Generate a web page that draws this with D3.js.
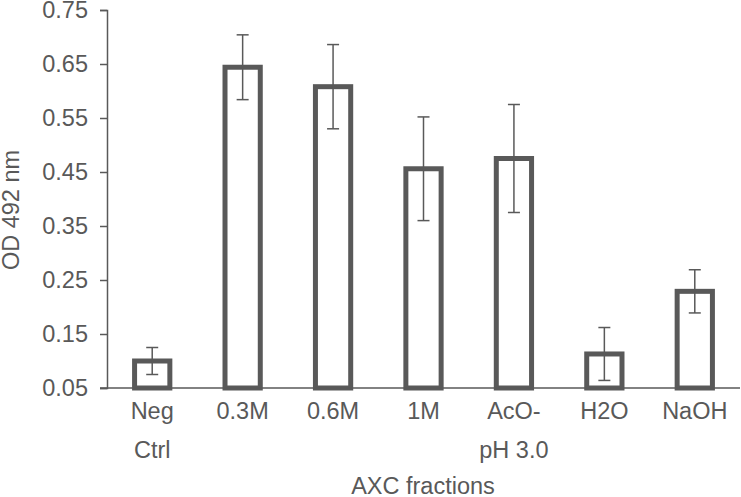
<!DOCTYPE html>
<html>
<head>
<meta charset="utf-8">
<script src="https://cdn.jsdelivr.net/npm/d3@7"></script>
<style>
  body { margin: 0; background: #fff; }
  text { font-family: "Liberation Sans", Arial, sans-serif; fill: #595959; }
</style>
</head>
<body>
<div id="chart"></div>
<script>
// Data
var categories = ["Neg|Ctrl", "0.3M", "0.6M", "1M", "AcO-|pH 3.0", "H2O", "NaOH"];
var values = [0.100, 0.644, 0.608, 0.456, 0.475, 0.113, 0.229];
var errors = [0.025, 0.060, 0.078, 0.096, 0.100, 0.049, 0.040];
var yTicks = [0.05, 0.15, 0.25, 0.35, 0.45, 0.55, 0.65, 0.75];

var w = 741, h = 497;
var plotLeft = 107, plotRight = 740, plotTop = 10, plotBottom = 388;
var grey = "#595959";
var fontSize = "23.5px";

var svg = d3.select("#chart")
    .append("svg")
    .attr("width", w)
    .attr("height", h);

var x = d3.scaleBand()
    .domain(categories)
    .range([plotLeft, plotRight])
    .paddingInner(0.61)
    .paddingOuter(0.305);

var y = d3.scaleLinear()
    .domain([0.05, 0.75])
    .range([plotBottom, plotTop]);

// Y axis
var yAxis = svg.append("g")
    .attr("transform", "translate(" + plotLeft + ",0)")
    .call(d3.axisLeft(y).tickValues(yTicks).tickSize(7).tickPadding(12).tickFormat(d3.format(".2f")));
yAxis.select(".domain").attr("stroke", grey).attr("stroke-width", 1.5);
yAxis.selectAll(".tick line").attr("stroke", grey).attr("stroke-width", 1.5);
yAxis.selectAll(".tick text").attr("font-size", fontSize).attr("font-family", null).style("fill", grey);

// Bars
svg.selectAll(".bar")
    .data(values)
    .enter()
    .append("rect")
    .attr("class", "bar")
    .attr("x", function(d, i) { return x(categories[i]); })
    .attr("y", function(d) { return y(d); })
    .attr("width", x.bandwidth())
    .attr("height", function(d) { return y(0.05) - y(d); })
    .attr("fill", "#ffffff")
    .attr("stroke", grey)
    .attr("stroke-width", 5);

// X axis line
svg.append("line")
    .attr("x1", plotLeft - 7)
    .attr("x2", plotRight)
    .attr("y1", y(0.05))
    .attr("y2", y(0.05))
    .attr("stroke", grey)
    .attr("stroke-width", 1.5);

// Error bars
var err = svg.selectAll(".err")
    .data(values)
    .enter()
    .append("g")
    .attr("class", "err")
    .attr("transform", function(d, i) { return "translate(" + (x(categories[i]) + x.bandwidth() / 2) + ",0)"; });
err.append("line")
    .attr("y1", function(d, i) { return y(d + errors[i]); })
    .attr("y2", function(d, i) { return y(d - errors[i]); })
    .attr("stroke", grey).attr("stroke-width", 1.5);
err.append("line")
    .attr("x1", -6).attr("x2", 6)
    .attr("y1", function(d, i) { return y(d + errors[i]); })
    .attr("y2", function(d, i) { return y(d + errors[i]); })
    .attr("stroke", grey).attr("stroke-width", 1.5);
err.append("line")
    .attr("x1", -6).attr("x2", 6)
    .attr("y1", function(d, i) { return y(d - errors[i]); })
    .attr("y2", function(d, i) { return y(d - errors[i]); })
    .attr("stroke", grey).attr("stroke-width", 1.5);

// Category labels
var labels = svg.selectAll(".label")
    .data(categories)
    .enter()
    .append("text")
    .attr("class", "label")
    .attr("text-anchor", "middle")
    .attr("font-size", fontSize)
    .attr("transform", function(d) { return "translate(" + (x(d) + x.bandwidth() / 2) + ",0)"; });
labels.selectAll("tspan")
    .data(function(d) { return d.split("|"); })
    .enter()
    .append("tspan")
    .attr("x", 0)
    .attr("y", function(d, i) { return 419 + i * 39; })
    .text(function(d) { return d; });

// Axis titles
svg.append("text")
    .attr("x", 423)
    .attr("y", 494)
    .attr("text-anchor", "middle")
    .attr("font-size", fontSize)
    .text("AXC fractions");

svg.append("text")
    .attr("transform", "translate(19,210) rotate(-90)")
    .attr("text-anchor", "middle")
    .attr("font-size", fontSize)
    .text("OD 492 nm");
</script>
</body>
</html>
